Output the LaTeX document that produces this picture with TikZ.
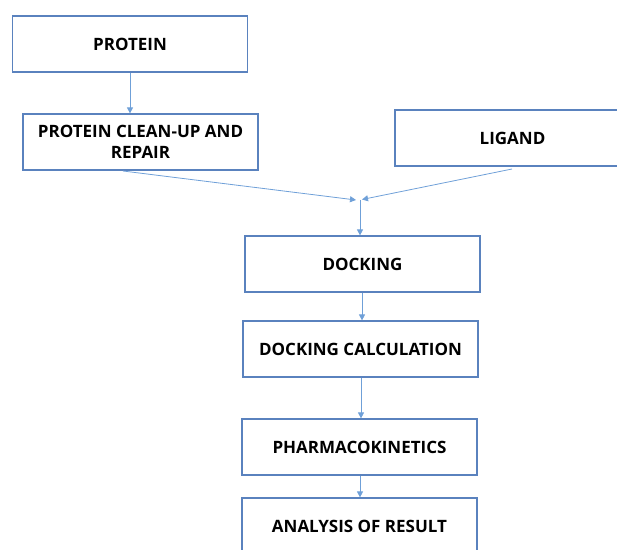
\documentclass[tikz,border=0pt]{standalone}
\usepackage{fontspec}
\setmainfont{Open Sans}
\usetikzlibrary{arrows.meta}
\definecolor{boxc}{HTML}{5A82BE}
\definecolor{arrc}{HTML}{6FA0D8}
\tikzset{
  stepbox/.style={draw=boxc, line width=1.2pt, fill=white, minimum width=235pt, minimum height=56pt,
    inner sep=0pt, align=center, font=\fontsize{17}{21}\selectfont\bfseries, text=black},
  conn/.style={draw=arrc, line width=0.8pt, -{Triangle[length=6pt,width=6pt]}}
}
\begin{document}
\begin{tikzpicture}[x=1pt,y=-1pt]
\useasboundingbox (0,0) rectangle (617,549);
\clip (0,0) rectangle (617,549);
\node[stepbox] (protein) at (130,44) {PROTEIN};
\node[stepbox] (clean) at (140.5,142) {PROTEIN CLEAN-UP AND\\REPAIR};
\node[stepbox] (ligand) at (512.5,138) {LIGAND};
\node[stepbox] (docking) at (362.5,264) {DOCKING};
\node[stepbox] (calc) at (360.5,349) {DOCKING CALCULATION};
\node[stepbox] (pharm) at (359.5,447) {PHARMACOKINETICS};
\node[stepbox] (analysis) at (359.5,526) {ANALYSIS OF RESULT};
\coordinate (c1) at (123,171);
\coordinate (l1) at (512,169);
\coordinate (mL) at (356,200);
\coordinate (mR) at (362,199.5);
\coordinate (md) at (360,200);
\draw[conn] (protein.south -| 130,0) -- (clean.north -| 130,0);
\draw[conn] (c1) -- (mL);
\draw[conn] (l1) -- (mR);
\draw[conn] (md) -- (docking.north -| md);
\draw[conn] (docking.south -| 362,0) -- (calc.north -| 362,0);
\draw[conn] (calc.south -| 361,0) -- (pharm.north -| 361,0);
\draw[conn] (pharm.south -| 360,0) -- (analysis.north -| 360,0);
\end{tikzpicture}
\end{document}
